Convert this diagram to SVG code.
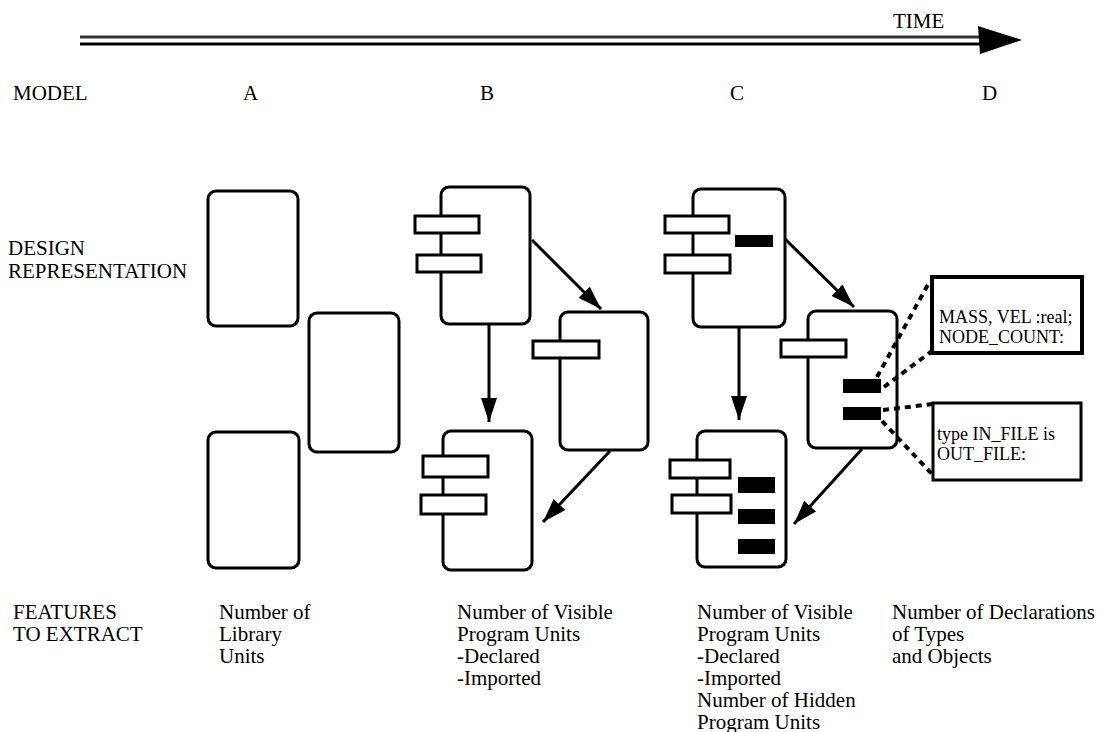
<svg xmlns="http://www.w3.org/2000/svg" width="1105" height="732" viewBox="0 0 1105 732">
<style>
text { font-family: "Liberation Serif", "Times New Roman", serif; font-size: 21px; fill: #000; }
.unit { fill: #fff; stroke: #000; stroke-width: 3; }
.tab { fill: #fff; stroke: #000; stroke-width: 3; }
.blk { fill: #000; }
.arr { stroke: #000; stroke-width: 3; fill: none; marker-end: url(#ah); }
.dot { stroke: #000; stroke-width: 4; stroke-dasharray: 6 5; fill: none; }
.decl { font-size: 18px; }
</style>
<defs>
<marker id="ah" markerUnits="userSpaceOnUse" markerWidth="26" markerHeight="18" refX="24" refY="8" orient="auto">
<path d="M0,0 L24,8 L0,16 z" fill="#000"/>
</marker>
</defs>
<rect width="1105" height="732" fill="#fff"/>

<g id="time-axis">
<line x1="80" y1="37" x2="985" y2="37" stroke="#333" stroke-width="3"/>
<line x1="80" y1="44" x2="985" y2="44" stroke="#000" stroke-width="3"/>
<path d="M978,26 L1022,40 L980,54 z" fill="#000"/>
<text x="893" y="28">TIME</text>
</g>

<g id="row-labels">
<text x="13" y="100">MODEL</text>
<text x="243" y="100">A</text>
<text x="480" y="100">B</text>
<text x="730" y="100">C</text>
<text x="982" y="100">D</text>
<text x="8" y="255">DESIGN</text>
<text x="8" y="278">REPRESENTATION</text>
</g>

<g id="model-A">
<rect class="unit" x="208" y="191" width="90" height="135" rx="8"/>
<rect class="unit" x="309" y="313" width="90" height="139" rx="8"/>
<rect class="unit" x="208" y="432" width="91" height="136" rx="8"/>
</g>

<g id="model-B1">
<rect class="unit" x="441" y="187" width="89" height="137" rx="8"/>
<rect class="tab" x="415" y="216" width="64" height="17"/>
<rect class="tab" x="417" y="255" width="64" height="17"/>
</g>
<g id="model-B2">
<rect class="unit" x="560" y="312" width="88" height="138" rx="8"/>
<rect class="tab" x="533" y="341" width="66" height="17"/>
</g>
<g id="model-B3">
<rect class="unit" x="443" y="431" width="89" height="139" rx="8"/>
<rect class="tab" x="423" y="456" width="65" height="21"/>
<rect class="tab" x="421" y="495" width="65" height="19"/>
</g>

<g id="model-C1">
<rect class="unit" x="693" y="189" width="92" height="138" rx="8"/>
<rect class="tab" x="665" y="216" width="64" height="17"/>
<rect class="tab" x="665" y="255" width="65" height="18"/>
<rect class="blk" x="735" y="235" width="38" height="12"/>
</g>
<g id="model-C2">
<rect class="unit" x="808" y="311" width="89" height="137" rx="8"/>
<rect class="tab" x="781" y="340" width="65" height="17"/>
<rect class="blk" x="843" y="379" width="38" height="14"/>
<rect class="blk" x="843" y="407" width="38" height="13"/>
</g>
<g id="model-C3">
<rect class="unit" x="697" y="431" width="89" height="136" rx="8"/>
<rect class="tab" x="670" y="460" width="60" height="18"/>
<rect class="tab" x="672" y="495" width="59" height="18"/>
<rect class="blk" x="738" y="477" width="37" height="16"/>
<rect class="blk" x="738" y="509" width="37" height="15"/>
<rect class="blk" x="738" y="539" width="37" height="15"/>
</g>

<g id="decl-objects">
<rect x="932" y="277" width="150" height="76" fill="#fff" stroke="#000" stroke-width="4"/>
<text class="decl" x="939" y="323">MASS, VEL :real;</text>
<text class="decl" x="939" y="343">NODE_COUNT:</text>
</g>
<g id="decl-types">
<rect x="933" y="403" width="148" height="77" fill="#fff" stroke="#000" stroke-width="3"/>
<text class="decl" x="937" y="440">type IN_FILE is</text>
<text class="decl" x="937" y="460">OUT_FILE:</text>
</g>

<g id="connectors">
<line class="arr" x1="532" y1="240" x2="601" y2="309"/>
<line class="arr" x1="489" y1="325" x2="489" y2="422"/>
<line class="arr" x1="610" y1="451" x2="543" y2="522"/>
<line class="arr" x1="785" y1="239" x2="854" y2="307"/>
<line class="arr" x1="739" y1="327" x2="739" y2="420"/>
<line class="arr" x1="862" y1="449" x2="794" y2="524"/>
<line class="dot" x1="877" y1="377" x2="930" y2="281"/>
<line class="dot" x1="884" y1="387" x2="932" y2="351"/>
<line class="dot" x1="883" y1="410" x2="933" y2="404"/>
<line class="dot" x1="882" y1="421" x2="932" y2="474"/>
</g>

<g id="features">
<text x="13" y="619">FEATURES</text>
<text x="13" y="641">TO EXTRACT</text>
<text x="219" y="619">Number of</text>
<text x="219" y="641">Library</text>
<text x="219" y="663">Units</text>
<text x="457" y="619">Number of Visible</text>
<text x="457" y="641">Program Units</text>
<text x="457" y="663">-Declared</text>
<text x="457" y="685">-Imported</text>
<text x="697" y="619">Number of Visible</text>
<text x="697" y="641">Program Units</text>
<text x="697" y="663">-Declared</text>
<text x="697" y="685">-Imported</text>
<text x="697" y="707">Number of Hidden</text>
<text x="697" y="729">Program Units</text>
<text x="892" y="619">Number of Declarations</text>
<text x="892" y="641">of Types</text>
<text x="892" y="663">and Objects</text>
</g>
</svg>
